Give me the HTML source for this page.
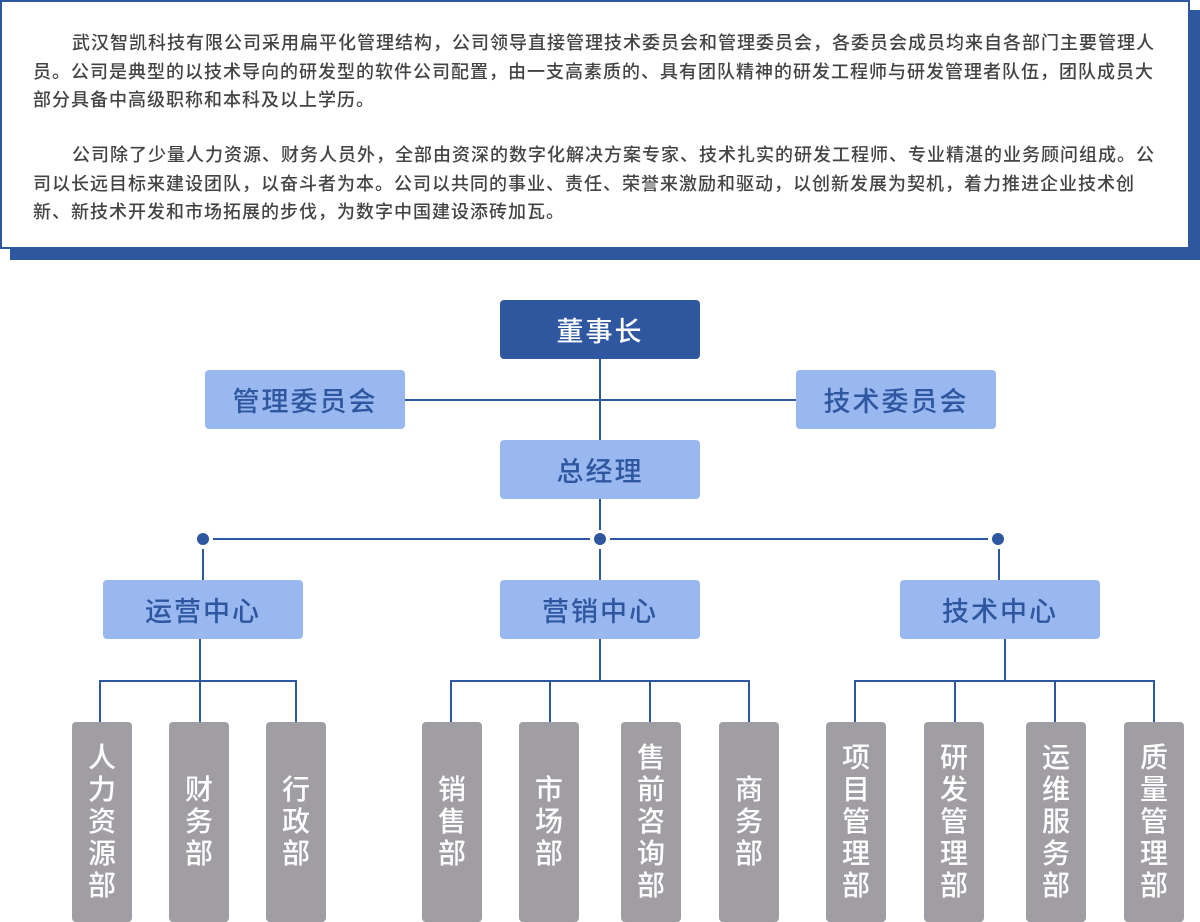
<!DOCTYPE html>
<html><head><meta charset="utf-8"><style>
body{margin:0;width:1200px;height:922px;background:#fff;position:relative;overflow:hidden;font-family:"Liberation Sans","Noto Sans CJK SC",sans-serif}
.shadow{position:absolute;left:10px;top:10px;width:1190px;height:250px;background:#2f57a0}
.card{position:absolute;left:0;top:0;width:1186px;height:245px;border:2px solid #2f57a0;background:#fff;box-sizing:content-box}
.card p{margin:0;position:absolute;left:31px;white-space:nowrap;font-size:18px;line-height:28.5px;color:#444;letter-spacing:1.0px;font-weight:500}
.b{position:absolute;border-radius:4px;display:flex;align-items:center;justify-content:center;font-size:27px;letter-spacing:2px;font-weight:500}
.d{background:#2f57a0;color:#fff;width:200px;height:59px}
.l{background:#9ab8f0;color:#2f57a0;width:200px;height:59px}
.g{background:#a09ea3;color:#fff;width:60px;height:200px;top:722px;flex-direction:column;line-height:32px;font-size:28px;letter-spacing:0}
.g span{display:block}
</style></head><body>
<div class="shadow"></div>
<div class="card">
<p style="top:27px"><span style="padding-left:39px"></span>武汉智凯科技有限公司采用扁平化管理结构，公司领导直接管理技术委员会和管理委员会，各委员会成员均来自各部门主要管理人<br>员。公司是典型的以技术导向的研发型的软件公司配置，由一支高素质的、具有团队精神的研发工程师与研发管理者队伍，团队成员大<br>部分具备中高级职称和本科及以上学历。</p>
<p style="top:139px"><span style="padding-left:39px"></span>公司除了少量人力资源、财务人员外，全部由资深的数字化解决方案专家、技术扎实的研发工程师、专业精湛的业务顾问组成。公<br>司以长远目标来建设团队，以奋斗者为本。公司以共同的事业、责任、荣誉来激励和驱动，以创新发展为契机，着力推进企业技术创<br>新、新技术开发和市场拓展的步伐，为数字中国建设添砖加瓦。</p>
</div>
<svg width="1200" height="922" style="position:absolute;left:0;top:0" fill="none" stroke="#2f57a0" stroke-width="2">
<path d="M600 359V440M405 400H796M600 499V530M600 549V580"/>
<path d="M213 539H590M610 539H988"/>
<path d="M203 549V580M999 549V580"/>
<path d="M200 639V681M100 722V681H296V722M200 681V722"/>
<path d="M600 639V681M451 722V681H749V722M550 681V722M650 681V722"/>
<path d="M1005 639V681M855 722V681H1154V722M955 681V722M1055 681V722"/>
<g fill="#2f57a0" stroke="none"><circle cx="203" cy="539" r="6"/><circle cx="600" cy="539" r="6"/><circle cx="998" cy="539" r="6"/></g>
</svg>
<div class="b d" style="left:500px;top:300px">董事长</div>
<div class="b l" style="left:205px;top:370px">管理委员会</div>
<div class="b l" style="left:796px;top:370px">技术委员会</div>
<div class="b l" style="left:500px;top:440px">总经理</div>
<div class="b l" style="left:103px;top:580px">运营中心</div>
<div class="b l" style="left:500px;top:580px">营销中心</div>
<div class="b l" style="left:900px;top:580px">技术中心</div>
<div class="b g" style="left:72px"><span>人</span><span>力</span><span>资</span><span>源</span><span>部</span></div>
<div class="b g" style="left:169px"><span>财</span><span>务</span><span>部</span></div>
<div class="b g" style="left:266px"><span>行</span><span>政</span><span>部</span></div>
<div class="b g" style="left:422px"><span>销</span><span>售</span><span>部</span></div>
<div class="b g" style="left:519px"><span>市</span><span>场</span><span>部</span></div>
<div class="b g" style="left:621px"><span>售</span><span>前</span><span>咨</span><span>询</span><span>部</span></div>
<div class="b g" style="left:719px"><span>商</span><span>务</span><span>部</span></div>
<div class="b g" style="left:826px"><span>项</span><span>目</span><span>管</span><span>理</span><span>部</span></div>
<div class="b g" style="left:924px"><span>研</span><span>发</span><span>管</span><span>理</span><span>部</span></div>
<div class="b g" style="left:1026px"><span>运</span><span>维</span><span>服</span><span>务</span><span>部</span></div>
<div class="b g" style="left:1124px"><span>质</span><span>量</span><span>管</span><span>理</span><span>部</span></div>
</body></html>
